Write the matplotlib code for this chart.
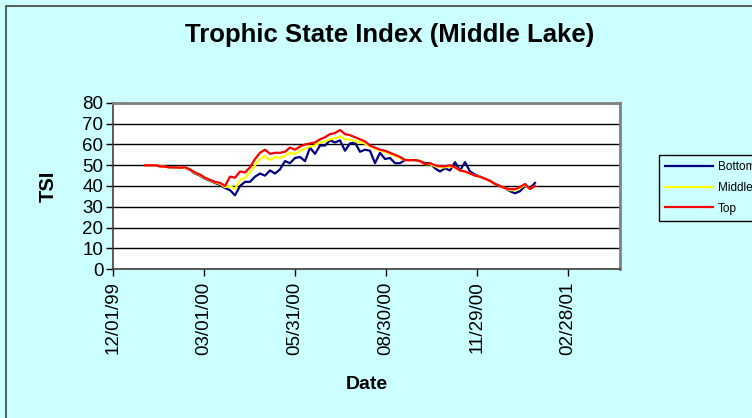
import matplotlib
matplotlib.use("Agg")
from matplotlib import pyplot as plt
from matplotlib.patches import Rectangle
import matplotlib.dates as mdates
import numpy as np
import pandas as pd

plt.rcParams['font.family'] = ['Liberation Sans', 'DejaVu Sans']

# sampling dates (every 5 days)
dates = pd.date_range("2000-01-02", "2001-01-26", freq="5D")

top = [50, 50, 50, 49.5, 49.3, 49, 49, 48.8, 49, 48,
       46.5, 45.5, 44, 43, 42, 41.5, 40, 44.5, 44, 47,
       46.5, 49, 53, 56, 57.5, 55.5, 56, 56, 56.5, 58.5,
       57.5, 59, 60, 60.5, 61, 62.5, 63.5, 65, 65.5, 67,
       65, 64.5, 63.5, 62.5, 61.5, 59.5, 58.5, 57.5, 57, 56,
       55, 54, 52.5, 52.5, 52.5, 52, 50.5, 51, 50, 49.5,
       49.5, 50, 49, 47.5, 47, 46, 45, 44.5, 43.5, 42.5,
       41, 40, 39, 38.5, 38.5, 39.5, 41, 38.5, 40]

middle = [50, 50, 50, 49.5, 49.3, 49, 49, 48.8, 48.8, 48,
          46.3, 45.3, 43.8, 42.8, 41.8, 41, 39.5, 40, 38.5, 43,
          44, 46.5, 50, 53, 54.5, 52.5, 54, 53.5, 54.5, 56,
          55.5, 57, 58, 59, 59.5, 61, 61.5, 62.5, 63, 64,
          62.5, 62.5, 61.5, 61, 60.5, 59, 58, 57, 56.5, 55.5,
          54.5, 53.5, 52.5, 52.5, 52.5, 52, 50.5, 50.5, 49.5, 49,
          49, 49.5, 49, 47.5, 47, 46, 45, 44.5, 43.5, 42.5,
          41, 40, 39, 38, 38, 39, 40.5, 38.5, 40]

bottom = [50, 50, 50, 49.5, 49.3, 49, 49, 48.8, 48.8, 47.8,
          46, 45, 43.5, 42.5, 41.5, 40.5, 39, 38, 35.5, 40,
          42, 42, 44.5, 46, 45, 47.5, 46, 48, 52, 51,
          53.5, 54, 52, 58.5, 55.5, 59.5, 59.5, 62, 61, 62,
          57, 60.5, 61, 56.5, 57.5, 57, 51, 56, 53, 53.5,
          51, 51, 52.5, 52.5, 52.5, 52, 51, 51, 48.5, 47,
          48.5, 47.5, 51.5, 47.5, 51.5, 47, 45.5, 44.5, 43.5, 42.5,
          41, 40, 39, 37.5, 36.5, 37.5, 40, 39, 41.5]

tick_dates = ["1999-12-01", "2000-03-01", "2000-05-31",
              "2000-08-30", "2000-11-29", "2001-02-28"]

bg = "#ccffff"
fig = plt.figure(figsize=(7.52, 4.18), dpi=100, facecolor=bg)
# chart border
fig.patches.append(Rectangle((6 / 752, -0.1), 1.2, 1.1 - 6 / 418,
                             transform=fig.transFigure, fill=False,
                             edgecolor="#404040", linewidth=1.2))

ax = fig.add_axes([113 / 752, 1 - 269 / 418, 507 / 752, 166 / 418])
ax.set_facecolor("white")

ax.plot(dates, bottom, color="#000080", lw=1.6, label="Bottom")
ax.plot(dates, middle, color="#ffff00", lw=1.6, label="Middle")
ax.plot(dates, top, color="#ff0000", lw=1.6, label="Top")

ax.set_ylim(0, 80)
ax.set_yticks(np.arange(0, 81, 10))
ax.set_xlim(pd.Timestamp("1999-12-01"), pd.Timestamp("1999-12-01") + pd.Timedelta(days=507))
ax.set_xticks(pd.to_datetime(tick_dates))
ax.xaxis.set_major_formatter(mdates.DateFormatter("%m/%d/%y"))
ax.grid(axis="y", color="black", lw=1)
ax.set_axisbelow(True)

for s in ["top", "right"]:
    ax.spines[s].set_color("#808080")
    ax.spines[s].set_linewidth(2)
for s in ["left", "bottom"]:
    ax.spines[s].set_color("#404040")
    ax.spines[s].set_linewidth(1.2)

ax.tick_params(axis="y", labelsize=13.5, length=5, width=1, pad=2)
ax.tick_params(axis="x", labelsize=13.5, length=5, width=1, pad=4, labelrotation=90)

ax.set_ylabel("TSI", fontsize=14.5, fontweight="bold", labelpad=18)
ax.set_xlabel("Date", fontsize=14, fontweight="bold", labelpad=15)
fig.suptitle("Trophic State Index (Middle Lake)", fontsize=18.5, fontweight="bold",
             x=390 / 752, y=1 - 35 / 418, va="center")

leg = fig.legend(loc="upper left", bbox_to_anchor=(659 / 752, 1 - 155 / 418),
                 fontsize=8.5, handlelength=4.1, labelspacing=0.75,
                 fancybox=False, facecolor=bg, edgecolor="black",
                 framealpha=1, borderpad=0.5, handletextpad=0.4,
                 borderaxespad=0)
leg.get_frame().set_linewidth(1)

fig.savefig("out.png", dpi=100, facecolor=bg)
